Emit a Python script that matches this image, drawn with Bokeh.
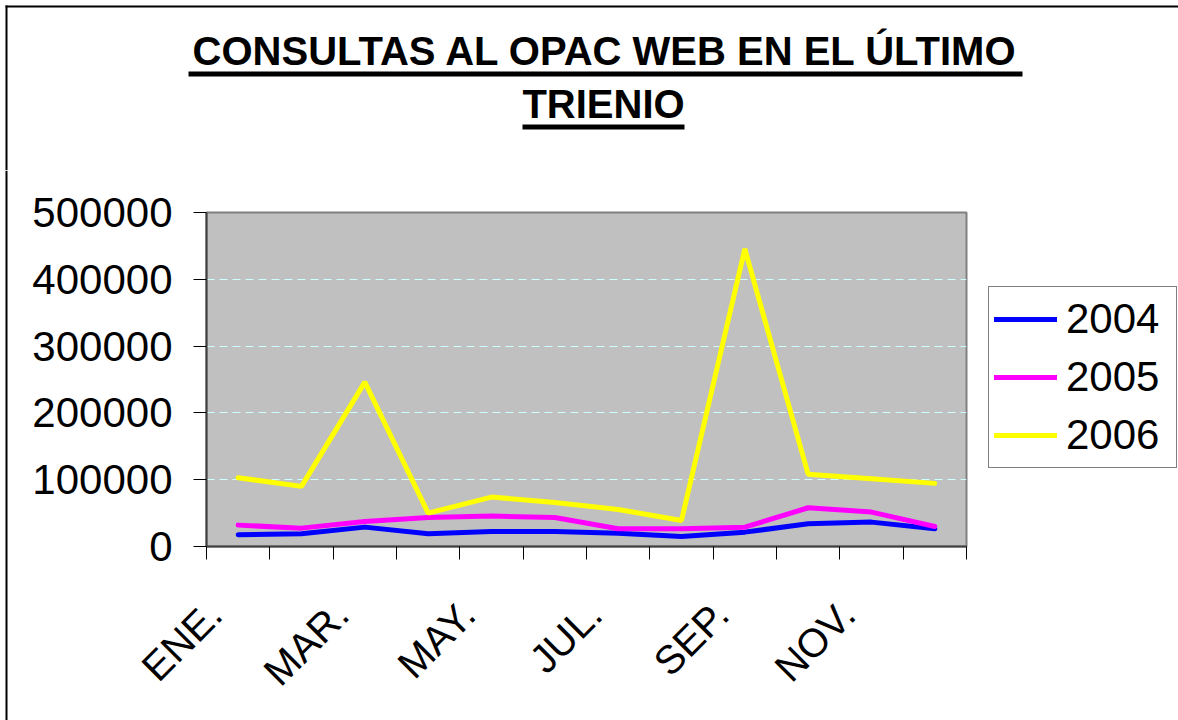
from math import pi
from bokeh.plotting import figure
from bokeh.layouts import column, row
from bokeh.models import (Range1d, LinearAxis, FixedTicker, Legend, LegendItem, Label,
                          BoxAnnotation, NumeralTickFormatter, CustomJSTickFormatter)
from bokeh.embed import file_html
from bokeh.resources import INLINE

# ---- data ----
months = ["ENE.", "FEB.", "MAR.", "ABR.", "MAY.", "JUN.", "JUL.", "AGO.", "SEP.", "OCT.", "NOV.", "DIC."]
shown_months = ["ENE.", "MAR.", "MAY.", "JUL.", "SEP.", "NOV."]
years = ["2004", "2005", "2006"]
v2004 = [17500, 19000, 29000, 19000, 22500, 22500, 20000, 15000, 21500, 34000, 36500, 26500]
v2005 = [32000, 27500, 37500, 43500, 45500, 43500, 26500, 26500, 29000, 58000, 51500, 30000]
v2006 = [103000, 90000, 246000, 50000, 74000, 66000, 55500, 39000, 445500, 108000, 101500, 94500]
y_ticks = [0, 100000, 200000, 300000, 400000, 500000]
title_lines = ["CONSULTAS AL OPAC WEB EN EL ÚLTIMO", "TRIENIO"]

series = [v2004, v2005, v2006]
colors = ["#0000FF", "#FF00FF", "#FFFF00"]
FONT = "Liberation Sans"
W, H_TITLE, H_MAIN = 1178, 170, 550
W_EDGE, W_MAIN = 20, 960
W_LEG = W - W_EDGE - W_MAIN


def blank(width, height):
    """A figure whose frame fills its canvas, data units = pixels (y downwards)."""
    f = figure(width=width, height=height, x_range=Range1d(0, width),
               y_range=Range1d(height, 0), output_backend="svg",
               toolbar_location=None, sizing_mode="fixed",
               x_axis_location=None, y_axis_location=None)
    f.min_border_left = f.min_border_right = f.min_border_top = f.min_border_bottom = 0
    f.outline_line_color = None
    f.background_fill_color = "white"
    f.border_fill_color = "white"
    f.xgrid.visible = False
    f.ygrid.visible = False
    return f


def border(f, l, r_, top, bot):
    f.add_layout(BoxAnnotation(left=l, right=r_, top=top, bottom=bot,
                               fill_color="black", fill_alpha=1, line_color=None))


# ---------------- title strip ----------------
t = blank(W, H_TITLE)
title_pos = [(605, 50), (603, 103)]
underlines = [(188, 1022, 71, 76), (522, 684, 124, 129)]
for txt, (tx, ty), (l, r_, top, bot) in zip(title_lines, title_pos, underlines):
    t.add_layout(Label(x=tx, y=ty, text=txt, text_font=FONT, text_font_size="40px",
                       text_font_style="bold", text_color="black",
                       text_align="center", text_baseline="alphabetic"))
    border(t, l, r_, top, bot)
border(t, 5, W, 5, 7)          # chart-area border, top edge
border(t, 5, 7, 5, H_TITLE)    # chart-area border, left edge

# left edge strip beside the chart
lb = blank(W_EDGE, H_MAIN)
border(lb, 5, 7, 0, H_MAIN)

# ---------------- main chart ----------------
centers = [i + 0.5 for i in range(len(months))]
boundaries = list(range(len(months) + 1))

p = figure(width=W_MAIN, height=H_MAIN,
           x_range=Range1d(0, len(months)),
           y_range=Range1d(y_ticks[0], y_ticks[-1]),
           output_backend="svg", toolbar_location=None, sizing_mode="fixed",
           x_axis_location=None, y_axis_location="left")
p.extra_x_ranges = {"labels": Range1d(0.37, len(months) + 0.37)}

p.min_border_left = 186
p.min_border_right = 14
p.min_border_top = 42
p.min_border_bottom = 174
p.background_fill_color = "#C0C0C0"
p.border_fill_color = "white"
p.outline_line_color = "#808080"
p.outline_line_width = 2

ya = p.yaxis[0]
ya.ticker = FixedTicker(ticks=y_ticks)
ya.formatter = NumeralTickFormatter(format="0")
ya.major_label_text_font = FONT
ya.major_label_text_font_size = "42px"
ya.major_label_text_color = "black"
ya.major_label_standoff = 21
ya.major_tick_in = 0
ya.major_tick_out = 13
ya.major_tick_line_color = "black"
ya.minor_tick_line_color = None
ya.axis_line_color = "#404040"
ya.axis_line_width = 2

p.xgrid.visible = False
p.ygrid[0].ticker = FixedTicker(ticks=y_ticks[1:-1])
p.ygrid.grid_line_color = "#CCFFFF"
p.ygrid.grid_line_dash = "8 5"
p.ygrid.grid_line_width = 1

tick_axis = LinearAxis(ticker=FixedTicker(ticks=boundaries),
                       formatter=CustomJSTickFormatter(code="return ''"),
                       major_tick_in=0, major_tick_out=13,
                       major_tick_line_color="black",
                       minor_tick_line_color=None,
                       axis_line_color="#404040", axis_line_width=2,
                       major_label_standoff=0, major_label_text_font_size="1px")
label_ticks = [c for c, m in zip(centers, months) if m in shown_months]
label_axis = LinearAxis(x_range_name="labels",
                        ticker=FixedTicker(ticks=label_ticks),
                        major_label_overrides={c: m for c, m in zip(centers, months)},
                        axis_line_color=None, major_tick_line_color=None,
                        minor_tick_line_color=None,
                        major_label_orientation=pi / 4,
                        major_label_text_font=FONT,
                        major_label_text_font_size="40px",
                        major_label_text_color="black",
                        major_label_standoff=42)
p.add_layout(tick_axis, "below")
p.add_layout(label_axis, "below")

for vals, col in zip(series, colors):
    p.line(x=centers, y=vals, line_color=col, line_width=5, line_cap="round")

# ---------------- legend strip ----------------
lg = blank(W_LEG, H_MAIN)
items = []
for yr, col in zip(years, colors):
    # stand-in renderer for the legend swatch, drawn off-canvas
    r = lg.line(x=[-20, -10], y=[-20, -20], line_color=col, line_width=5, line_cap="round")
    items.append(LegendItem(label=yr, renderers=[r]))
legend = Legend(items=items, location=(8, 252),
                label_text_font=FONT, label_text_font_size="42px",
                label_text_color="black",
                glyph_width=63, glyph_height=54, label_height=54, label_width=105,
                label_standoff=9, spacing=4, padding=5, margin=0,
                border_line_color="black", border_line_width=1,
                background_fill_color="white", background_fill_alpha=1)
lg.add_layout(legend)

for f in (t, lb, p, lg):
    if "frame_align" in f.properties():
        f.frame_align = False

page = column(t, row(lb, p, lg, spacing=0), spacing=0)

open("out.html", "w").write(file_html(page, INLINE))
